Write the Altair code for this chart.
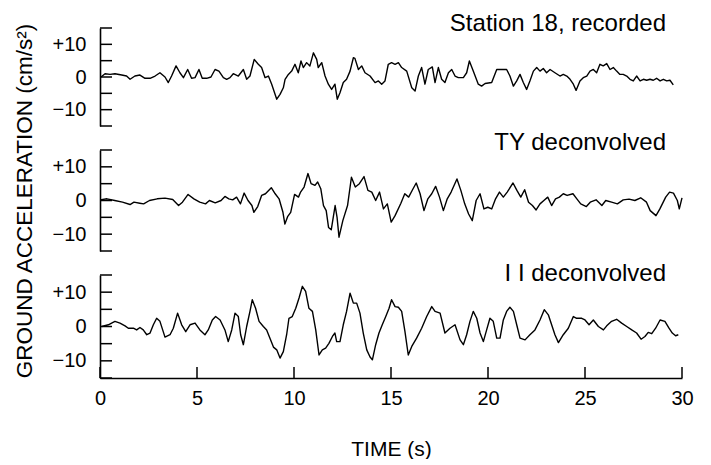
import altair as alt
import pandas as pd

# ---------------- data ----------------
# Station 18, recorded
t_rec = [0.05, 0.26, 0.52, 0.77, 1.12, 1.37, 1.55, 1.80, 2.06, 2.32, 2.58, 2.84, 3.09, 3.35, 3.52, 3.69,
         3.92, 4.12, 4.30, 4.52, 4.72, 4.90, 5.10, 5.27, 5.50, 5.72, 5.93, 6.13, 6.36, 6.53, 6.70, 6.87,
         7.13, 7.39, 7.56, 7.73, 7.95, 8.16, 8.33, 8.51, 8.68, 8.85, 9.11, 9.28, 9.45, 9.54, 9.71, 9.88,
         10.05, 10.22, 10.36, 10.48, 10.65, 10.82, 11.00, 11.17, 11.25, 11.43, 11.60, 11.77, 11.94, 12.11,
         12.23, 12.37, 12.54, 12.71, 12.89, 13.06, 13.14, 13.32, 13.49, 13.66, 13.92, 14.18, 14.35, 14.52,
         14.69, 14.86, 15.03, 15.21, 15.38, 15.55, 15.81, 16.07, 16.24, 16.41, 16.58, 16.75, 16.92, 17.13,
         17.27, 17.44, 17.61, 17.78, 17.96, 18.13, 18.30, 18.47, 18.73, 18.90, 19.04, 19.24, 19.50, 19.67,
         19.85, 20.19, 20.45, 20.71, 20.96, 21.13, 21.31, 21.48, 21.65, 21.82, 21.99, 22.16, 22.34, 22.51,
         22.68, 22.85, 23.02, 23.20, 23.45, 23.71, 23.88, 24.06, 24.23, 24.40, 24.54, 24.74, 24.91, 25.09,
         25.26, 25.43, 25.60, 25.77, 25.94, 26.12, 26.29, 26.46, 26.63, 26.80, 26.97, 27.15, 27.32, 27.49,
         27.66, 27.84, 28.01, 28.18, 28.35, 28.52, 28.69, 28.87, 29.04, 29.21, 29.38, 29.55]
a_rec = [0.0, 1.0, 0.8, 1.0, 0.6, 0.3, -0.7, 0.3, 0.6, -0.4, -0.4, 0.3, 1.3, 0.0, -1.7, 0.3,
         3.4, 1.3, -0.2, 2.3, -0.4, -0.2, 2.3, -0.4, -0.4, 0.0, 2.3, 1.8, -0.2, -0.7, -0.2, 1.0,
         0.3, 2.3, -0.7, 0.3, 5.4, 3.9, 2.9, -0.2, 0.3, -2.2, -6.8, -5.3, -3.3, -0.7, 0.8, 1.8,
         3.9, 1.3, 4.9, 2.9, 4.4, 3.4, 7.4, 5.4, 2.9, 4.4, 0.3, -2.2, -3.8, -2.2,
         -6.8, -4.8, -1.7, -0.7, 1.8, 5.9, 5.7, 2.3, 3.4, 1.3, 0.3, -1.7, -1.2, -2.2,
         -1.2, 3.9, 4.4, 3.9, 4.4, 2.9, 1.8, -3.3, -4.3, 0.3, 2.9, -2.2, 2.3, 3.1,
         -1.7, 2.9, -0.7, -1.7, 1.3, 2.3, 0.3, -0.2, -0.2, 1.3, 4.9, 1.8, -2.2, -2.8,
         -2.0, -1.7, 2.3, 2.3, 2.3, 0.3, -2.8, -1.2, 0.8, -1.7, -3.8, -1.2, 1.8, 2.9,
         1.8, 2.6, 1.3, 2.3, 1.3, 0.3, 0.8, 0.3, -0.7, -2.2, -4.1, -1.2, -0.2, 0.3,
         1.8, 2.3, 1.3, 3.9, 3.4, 4.1, 2.3, 2.9, 1.8, 0.8, 0.8, 0.3, -0.7, -1.2,
         0.3, -1.2, -0.7, -1.0, -0.7, -1.0, -0.4, -1.2, -0.7, -1.2, -1.0, -2.4]

# TY deconvolved
t_ty = [0.0, 0.36, 0.76, 1.16, 1.55, 1.75, 2.05, 2.25, 2.55, 2.95, 3.35, 3.75, 4.05, 4.25, 4.54, 4.84,
        5.14, 5.44, 5.64, 5.94, 6.24, 6.44, 6.64, 6.84, 7.04, 7.24, 7.43, 7.63, 7.83, 7.93, 8.13, 8.33,
        8.53, 8.83, 9.03, 9.23, 9.43, 9.53, 9.67, 9.83, 10.03, 10.23, 10.33, 10.52, 10.72, 10.88, 11.08,
        11.22, 11.38, 11.52, 11.66, 11.78, 11.92, 12.12, 12.22, 12.32, 12.52, 12.76, 12.96, 13.16, 13.37,
        13.61, 13.81, 14.01, 14.21, 14.41, 14.61, 14.81, 15.01, 15.21, 15.51, 15.71, 15.91, 16.11, 16.30,
        16.50, 16.70, 16.90, 17.10, 17.30, 17.50, 17.70, 17.90, 18.10, 18.40, 18.60, 18.80, 19.00, 19.19,
        19.39, 19.59, 19.79, 19.99, 20.19, 20.39, 20.59, 20.79, 20.99, 21.29, 21.49, 21.69, 21.89, 22.09,
        22.29, 22.48, 22.68, 22.88, 23.08, 23.28, 23.48, 23.68, 23.88, 24.08, 24.38, 24.58, 24.78, 25.07,
        25.27, 25.57, 25.87, 26.07, 26.37, 26.67, 26.97, 27.27, 27.57, 27.87, 28.17, 28.36, 28.66, 28.86,
        29.16, 29.36, 29.56, 29.76, 29.86, 30.0]
a_ty = [0.2, 0.5, 0.0, -0.5, -1.2, -0.5, -0.8, -1.0, 0.0, 0.5, 0.7, 0.3, -1.5, -0.5, 1.8, 0.5,
        -0.5, -1.0, 0.0, -0.7, 0.0, 1.2, 0.5, 0.2, 1.0, -1.0, 2.2, 0.0, -1.5, -3.5, -1.8, 1.5,
        2.0, 3.8, 2.0, 0.5, -3.5, -7.0, -4.8, -3.5, 1.8, 1.0, 2.4, 4.0, 8.0, 5.0, 4.5,
        5.5, 3.5, -1.5, -3.0, -8.0, -8.7, -1.5, -5.0, -10.9, -5.9, -1.5, 6.9, 4.0, 5.0,
        7.1, 3.0, 2.5, 0.0, 2.5, -2.5, -1.0, -6.4, -4.5, -0.8, 2.0, 1.0, 3.2, 5.2,
        2.0, -3.0, 0.5, 2.0, 4.2, 1.0, -3.0, 0.5, 2.5, 6.4, 3.0, -1.0, -4.0, -6.0,
        0.0, 2.0, -2.5, -2.0, -2.5, 0.5, 2.5, 1.0, 2.5, 5.2, 3.0, 1.0, 3.2, -0.5,
        -1.5, -2.8, -1.0, 0.0, 1.0, -1.5, 0.5, 1.0, 2.0, 1.5, 2.0, 0.5, -1.0, -1.8,
        -0.5, 0.2, -1.5, 0.0, -0.5, -1.0, 0.2, 0.4, 0.0, 0.8, -0.5, -3.0, -4.5, -2.5,
        1.0, 2.5, 2.2, 0.0, -2.5, 0.8]

# I I deconvolved
t_ii = [0.09, 0.43, 0.77, 1.03, 1.29, 1.46, 1.72, 1.89, 2.06, 2.23, 2.41, 2.58, 2.75, 2.92, 3.09, 3.35,
        3.61, 3.78, 4.00, 4.21, 4.42, 4.64, 4.90, 5.15, 5.41, 5.58, 5.79, 5.96, 6.19, 6.44, 6.61, 6.79,
        6.96, 7.13, 7.25, 7.39, 7.56, 7.73, 7.85, 8.02, 8.20, 8.42, 8.59, 8.76, 8.94, 9.11, 9.28, 9.45,
        9.62, 9.74, 9.91, 10.09, 10.26, 10.43, 10.60, 10.77, 10.95, 11.12, 11.29, 11.46, 11.63, 11.80,
        11.98, 12.11, 12.20, 12.37, 12.54, 12.71, 12.89, 13.06, 13.23, 13.40, 13.57, 13.75, 13.92, 14.04,
        14.21, 14.38, 14.55, 14.73, 14.90, 15.03, 15.21, 15.38, 15.55, 15.72, 15.89, 16.07, 16.32, 16.58,
        16.84, 17.10, 17.27, 17.53, 17.78, 18.04, 18.30, 18.56, 18.73, 18.90, 19.07, 19.24, 19.42, 19.59,
        19.76, 19.93, 20.10, 20.27, 20.45, 20.62, 20.79, 20.96, 21.13, 21.31, 21.48, 21.65, 21.91, 22.16,
        22.42, 22.68, 22.90, 23.11, 23.28, 23.45, 23.63, 23.88, 24.14, 24.40, 24.57, 24.83, 25.00, 25.21,
        25.43, 25.69, 25.95, 26.12, 26.37, 26.63, 26.89, 27.15, 27.41, 27.66, 27.89, 28.09, 28.26, 28.44,
        28.64, 28.87, 29.12, 29.33, 29.50, 29.67, 29.81]
a_ii = [0.0, 0.5, 1.5, 1.0, 0.2, -0.5, -0.5, -1.0, -0.3, -1.0, -2.4, -1.9, 0.5, 2.4, 1.5, -3.1,
        -2.4, -0.5, 3.9, 0.5, -1.5, 0.5, 1.0, -1.0, -2.4, -1.0, 1.9, 2.9, 1.9, -1.0, -4.4, -1.0,
        3.9, 2.9, -2.4, -5.3, 0.0, 4.4, 7.8, 5.3, 1.5, 0.0, -1.0, -3.4, -6.0, -6.8, -9.2, -7.3,
        -2.4, 2.4, 2.9, 5.3, 8.3, 11.7, 10.2, 5.3, 4.4, -1.0, -8.3, -6.8, -6.3, -4.9,
        -2.9, -1.9, -4.4, -4.4, 0.5, 4.4, 9.7, 6.8, 6.8, 3.9, -1.9, -6.8, -8.9, -9.7,
        -5.3, -1.9, 0.5, 2.9, 5.3, 7.8, 5.8, 5.6, 4.4, -1.5, -8.3, -5.8, -3.4, -0.5,
        2.9, 5.8, 4.4, 3.9, -1.9, -0.5, 0.5, -3.9, -5.3, -2.4, 1.5, 4.4, 2.4, -1.9,
        -4.4, -1.0, 2.4, 1.5, -3.4, -3.4, 1.9, 4.4, 5.6, 4.4, 0.5, -3.4, -3.9, -2.4,
        -1.0, 1.9, 4.9, 3.4, 0.5, -2.4, -4.7, -2.4, -0.5, 2.9, 2.4, 2.4, 1.9, 0.5,
        1.9, 0.0, -1.0, 0.2, 1.5, 2.1, 1.0, 0.0, -1.0, -1.9, -3.7, -2.9, -1.7, -2.1,
        -0.5, 1.9, 1.5, -0.5, -1.9, -2.7, -2.4]

panel_titles = ["Station 18, recorded", "TY deconvolved", "I I deconvolved"]
y_ticks = [-15, -10, -5, 0, 5, 10, 15]
y_labels = [-10, 0, 10]
x_ticks = [0, 5, 10, 15, 20, 25, 30]

FONT = "Liberation Sans"
W = 582


def make_panel(t, a, title, h, bottom, ytitle, title_dy):
    xscale = alt.Scale(domain=[0, 30], nice=False, zero=False)
    yscale = alt.Scale(domain=[-15, 15], nice=False)
    if bottom:
        xaxis = alt.Axis(values=x_ticks, ticks=False, grid=False, domain=True,
                         domainColor="black", domainWidth=1.6,
                         labelFont=FONT, labelFontSize=20, labelColor="black",
                         labelPadding=10, labelFlush=False,
                         titleFont=FONT, titleFontSize=21, titleFontWeight="normal",
                         titleColor="black", titlePadding=30)
        xenc = alt.X("t:Q", scale=xscale, axis=xaxis, title="TIME (s)")
    else:
        xenc = alt.X("t:Q", scale=xscale, axis=None)

    ykw = dict(values=y_labels, ticks=False, grid=False, domain=True,
               domainColor="black", domainWidth=1.6,
               labelFont=FONT, labelFontSize=20, labelColor="black", labelPadding=14,
               labelExpr="datum.value > 0 ? '+' + datum.label : datum.label",
               titleFont=FONT, titleFontSize=22.5, titleFontWeight="normal",
               titleColor="black", titlePadding=16)
    yenc = alt.Y("a:Q", scale=yscale, axis=alt.Axis(**ykw), title=ytitle)

    df = pd.DataFrame({"t": t, "a": a})
    line = alt.Chart(df).mark_line(color="black", strokeWidth=1.4, strokeJoin="round").encode(
        x=xenc, y=yenc)

    yt = alt.Chart(pd.DataFrame({"a": y_ticks})).mark_rule(color="black", strokeWidth=1.5).encode(
        y=alt.Y("a:Q", scale=yscale), x=alt.value(0), x2=alt.value(12))

    lab = alt.Chart(pd.DataFrame({"t": [30], "a": [15], "lab": [title]})).mark_text(
        align="right", baseline="middle", dx=-16, dy=title_dy, font=FONT, fontSize=24,
        color="black").encode(x=alt.X("t:Q", scale=xscale), y=alt.Y("a:Q", scale=yscale), text="lab:N")

    layers = [line, yt, lab]
    if bottom:
        xt = alt.Chart(pd.DataFrame({"t": x_ticks})).mark_rule(color="black", strokeWidth=1.5).encode(
            x=alt.X("t:Q", scale=xscale), y=alt.value(h), y2=alt.value(h - 11))
        layers.append(xt)
    return alt.layer(*layers).properties(width=W, height=h)


p1 = make_panel(t_rec, a_rec, panel_titles[0], 98, False, "", -4)
p2 = make_panel(t_ty, a_ty, panel_titles[1], 101, False, "GROUND ACCELERATION (cm/s²)", -7)
p3 = make_panel(t_ii, a_ii, panel_titles[2], 103, True, "", -1)

chart = alt.vconcat(p1, p2, p3, spacing=24, bounds="flush").configure_view(
    strokeWidth=0).properties(padding={"left": 5, "top": 4, "right": 5, "bottom": 0},
                               background="white")

chart.save("out.html", embed_options={"renderer": "svg", "actions": False})
